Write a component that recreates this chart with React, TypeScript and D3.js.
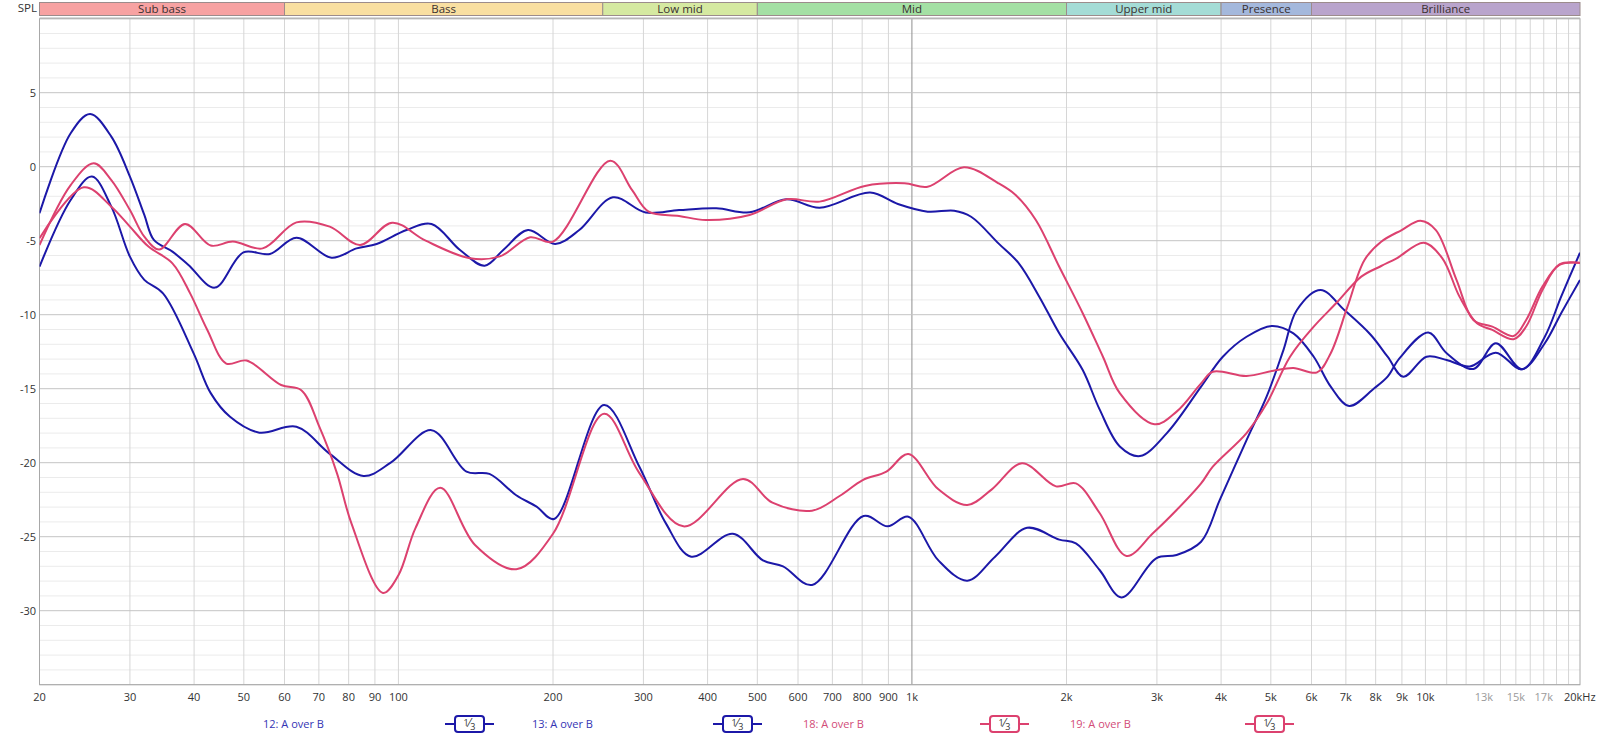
import React from 'react';
import * as d3 from 'd3';

// frequency (Hz) / level (dB) pairs
const freqs12 = [20, 23, 25.1, 27.6, 30, 32, 33.4, 36.3, 39, 43.9, 49.9, 56.2, 63.3, 74.1, 82.9, 90.7, 103.7, 116, 131.8, 147.2, 160, 178.8, 202, 225, 261.6, 303, 352, 416, 483, 570, 661, 829, 939, 1073, 1209, 1304, 1474, 1615, 1770, 1936, 2151, 2320, 2540, 2780, 3137, 3657, 4031, 4484, 5020, 5532, 6060, 6540, 7104, 7950, 8440, 8900, 10130, 11000, 12400, 13710, 15420, 17080, 18380, 20000];
const spl12 = [-3.15, 2.26, 3.56, 2.03, -0.67, -3.26, -4.95, -5.74, -6.64, -8.17, -5.79, -5.9, -4.8, -6.15, -5.52, -5.22, -4.28, -3.87, -5.63, -6.69, -5.63, -4.28, -5.22, -4.28, -2.07, -3.1, -2.93, -2.81, -3.08, -2.2, -2.77, -1.75, -2.52, -3.04, -2.97, -3.38, -5.18, -6.53, -8.78, -11.26, -13.74, -16.4, -18.9, -19.55, -18.0, -14.86, -12.84, -11.49, -10.76, -11.26, -12.84, -14.86, -16.17, -14.97, -14.19, -12.95, -11.2, -12.6, -13.67, -11.93, -13.69, -11.49, -8.78, -5.81];

const freqs13 = [20, 23, 25.3, 27.6, 30, 32, 34.8, 39.9, 43.1, 47, 53.6, 63.3, 73.5, 85.5, 96.6, 116, 135.7, 150.4, 169.6, 185.8, 201, 251.5, 294.6, 331.8, 371.7, 448, 512.7, 561, 639, 805, 897, 984, 1126, 1282, 1452, 1676, 1936, 2086, 2320, 2560, 2990, 3277, 3657, 3979, 4484, 4910, 5290, 5620, 6250, 6950, 7830, 8440, 9060, 10050, 11000, 12200, 13710, 15420, 17080, 18380, 20000];
const spl13 = [-6.76, -2.25, -0.67, -2.7, -6.08, -7.65, -8.56, -12.6, -15.3, -16.9, -17.97, -17.57, -19.4, -20.9, -20.0, -17.8, -20.6, -20.76, -22.2, -22.97, -23.8, -16.1, -20.27, -24.1, -26.35, -24.8, -26.6, -27.0, -28.26, -23.6, -24.3, -23.65, -26.6, -27.97, -26.35, -24.4, -25.2, -25.45, -27.25, -29.1, -26.46, -26.24, -25.34, -22.5, -18.47, -15.5, -12.39, -9.68, -8.33, -9.68, -11.37, -12.84, -14.19, -12.84, -13.06, -13.5, -12.57, -13.69, -11.93, -9.9, -7.65];

const freqs18 = [20, 23, 25.5, 27.6, 30, 32, 34.2, 38.4, 43.1, 47.6, 54.4, 63.3, 73.5, 84.2, 97.3, 113, 137.9, 157.6, 180.5, 200, 258.6, 285, 307, 352, 397, 483, 570, 661, 810, 967, 1073, 1263, 1474, 1592, 1743, 1936, 2151, 2355, 2540, 2968, 3277, 3657, 3854, 4484, 5058, 5532, 6150, 6540, 7050, 7610, 8200, 8990, 9780, 10480, 11500, 12400, 13500, 14850, 15710, 16900, 18240, 20000];
const spl18 = [-5.29, -1.24, 0.23, -0.9, -2.93, -4.73, -5.6, -3.87, -5.33, -5.06, -5.52, -3.76, -4.05, -5.29, -3.78, -5.0, -6.19, -6.06, -4.77, -5.06, 0.41, -1.57, -3.04, -3.33, -3.6, -3.26, -2.2, -2.36, -1.3, -1.12, -1.35, -0.04, -1.12, -1.91, -3.6, -6.76, -9.9, -12.84, -15.3, -17.4, -16.55, -14.64, -13.85, -14.14, -13.78, -13.6, -13.9, -12.6, -9.46, -6.3, -5.07, -4.28, -3.65, -4.28, -7.66, -10.36, -10.81, -11.44, -10.36, -8.1, -6.64, -6.49];

const freqs19 = [20, 24.4, 27.6, 30, 32.6, 36.3, 39.3, 42.4, 46.2, 50.6, 59.1, 64.7, 70.2, 75.9, 81, 93.3, 100, 108, 120.6, 141, 169.6, 200, 251.5, 294.6, 359, 469, 535, 639, 723, 802, 892, 984, 1126, 1282, 1431, 1638, 1908, 2086, 2320, 2617, 2946, 3277, 3657, 3854, 4484, 4910, 5450, 6060, 6700, 7500, 8200, 8790, 9930, 10790, 11650, 12600, 13500, 14850, 15710, 16900, 18240, 20000];
const spl19 = [-4.84, -1.39, -2.7, -4.05, -5.4, -6.53, -8.56, -11.0, -13.3, -13.1, -14.75, -15.1, -17.6, -20.7, -24.1, -28.8, -27.6, -24.4, -21.7, -25.56, -27.2, -24.8, -16.7, -20.7, -24.3, -21.1, -22.7, -23.24, -22.25, -21.17, -20.6, -19.41, -21.8, -22.86, -21.8, -20.04, -21.6, -21.4, -23.4, -26.3, -24.77, -23.2, -21.4, -20.27, -18.0, -15.99, -12.84, -10.81, -9.23, -7.43, -6.71, -6.19, -5.14, -6.19, -8.78, -10.58, -11.03, -11.66, -10.8, -8.33, -6.6, -6.5];

const seriesNames = ['12: A over B', '13: A over B', '18: A over B', '19: A over B'];
const seriesColors = ['#1c18a8', '#1c18a8', '#dc416f', '#dc416f'];
const legendTextColors = ['#3434b4', '#3434b4', '#d24c78', '#d24c78'];

const bandNames = ['Sub bass', 'Bass', 'Low mid', 'Mid', 'Upper mid', 'Presence', 'Brilliance'];
const bandEdges = [20, 60, 250, 500, 2000, 4000, 6000, 20000];
const bandColors = ['#f7a2a2', '#f9dfa1', '#d5e9a1', '#a4e0a4', '#a4dcd6', '#a4b8dc', '#b9a4cc'];

const gridFreqs = [
  30, 40, 50, 60, 70, 80, 90, 100,
  200, 300, 400, 500, 600, 700, 800, 900, 1000,
  2000, 3000, 4000, 5000, 6000, 7000, 8000, 9000, 10000,
  11000, 12000, 13000, 14000, 15000, 16000, 17000, 18000, 19000,
];
const tickFreqs = [20, 30, 40, 50, 60, 70, 80, 90, 100, 200, 300, 400, 500, 600, 700, 800, 900, 1000, 2000, 3000, 4000, 5000, 6000, 7000, 8000, 9000, 10000, 13000, 15000, 17000];
const tickLabels = ['20', '30', '40', '50', '60', '70', '80', '90', '100', '200', '300', '400', '500', '600', '700', '800', '900', '1k', '2k', '3k', '4k', '5k', '6k', '7k', '8k', '9k', '10k', '13k', '15k', '17k'];
const faintTicks = ['13k', '15k', '17k'];
const yTicks = [5, 0, -5, -10, -15, -20, -25, -30];

const W = 1600;
const H = 735;
const left = 39.5;
const right = 1580;
const top = 18.7;
const bottom = 684.7;
const font = '"Open Sans", "Noto Sans", sans-serif';

export default function App() {
  const x = d3.scaleLog().domain([20, 20000]).range([left, right]);
  const y = d3.scaleLinear().domain([-35, 10]).range([bottom, top]);

  const line = d3.line<[number, number]>()
    .x(d => x(d[0]))
    .y(d => y(d[1]))
    .curve(d3.curveCatmullRom.alpha(0.5));

  const all = [
    d3.zip(freqs12, spl12),
    d3.zip(freqs13, spl13),
    d3.zip(freqs18, spl18),
    d3.zip(freqs19, spl19),
  ] as [number, number][][];

  const minorDb = d3.range(-35, 10.01, 1).filter(v => v % 5 !== 0);
  const majorDb = d3.range(-35, 10.01, 5);

  const legendX = [263, 532, 803, 1070];
  const boxX = [445, 713, 980, 1245];

  return (
    <svg width={W} height={H} style={{ position: 'absolute', left: 0, top: 0, background: '#fff' }} fontFamily={font}>
      <rect x={0} y={0} width={W} height={H} fill="#fff" />

      {/* frequency band strip */}
      <text x={37} y={12} textAnchor="end" fontSize={11.5} fill="#333">SPL</text>
      {bandNames.map((name, i) => {
        const x0 = x(bandEdges[i]);
        const x1 = x(bandEdges[i + 1]);
        return (
          <g key={name}>
            <rect x={x0} y={2.5} width={x1 - x0} height={13} fill={bandColors[i]} stroke="#9c8c8c" strokeWidth={1} />
            <text x={(x0 + x1) / 2} y={13} textAnchor="middle" fontSize={11.5} fill="#3a3030">{name}</text>
          </g>
        );
      })}

      {/* grid */}
      {minorDb.map(v => (
        <line key={'h' + v} x1={left} x2={right} y1={y(v)} y2={y(v)} stroke="#ebebeb" strokeWidth={1} />
      ))}
      {gridFreqs.map(f => (
        <line key={'v' + f} x1={x(f)} x2={x(f)} y1={top} y2={bottom} stroke={f === 1000 ? '#8e8e8e' : '#d6d6d6'} strokeWidth={1} />
      ))}
      {majorDb.map(v => (
        <line key={'H' + v} x1={left} x2={right} y1={y(v)} y2={y(v)} stroke="#c4c4c4" strokeWidth={1} />
      ))}
      <rect x={left} y={top} width={right - left} height={bottom - top} fill="none" stroke="#a8a8a8" strokeWidth={1} />
      <line x1={left} x2={right} y1={top - 1} y2={top - 1} stroke="#d0d0d0" strokeWidth={1} />

      {/* y labels */}
      {yTicks.map(v => (
        <text key={'yl' + v} x={36} y={y(v) + 4} textAnchor="end" fontSize={11} fill="#333">{v}</text>
      ))}

      {/* x labels */}
      {tickFreqs.map((f, i) => (
        <text key={'xl' + f} x={x(f)} y={701} textAnchor="middle" fontSize={11} fill={faintTicks.includes(tickLabels[i]) ? '#9a9a9a' : '#333'}>{tickLabels[i]}</text>
      ))}
      <text x={right - 16} y={701} textAnchor="start" fontSize={11} fill="#333">20kHz</text>

      {/* traces */}
      <g clipPath="url(#plotClip)">
        <defs>
          <clipPath id="plotClip">
            <rect x={left} y={top} width={right - left} height={bottom - top} />
          </clipPath>
        </defs>
        {all.map((pts, i) => (
          <path key={seriesNames[i] + i} d={line(pts) || ''} fill="none" stroke={seriesColors[i]} strokeWidth={2} strokeLinejoin="round" />
        ))}
      </g>

      {/* legend */}
      {seriesNames.map((name, i) => (
        <g key={'lg' + i}>
          <text x={legendX[i]} y={728} fontSize={11} fill={legendTextColors[i]}>{name}</text>
          <line x1={boxX[i]} x2={boxX[i] + 49} y1={724} y2={724} stroke={seriesColors[i]} strokeWidth={2} />
          <rect x={boxX[i] + 10} y={716} width={29} height={16} rx={3} fill="#fff" stroke={seriesColors[i]} strokeWidth={2} />
          <text x={boxX[i] + 24.5} y={728} textAnchor="middle" fontSize={11} fill="#333">
            <tspan fontSize={9} dy={-2}>1</tspan>
            <tspan fontSize={12} dy={1}>⁄</tspan>
            <tspan fontSize={9} dy={3}>3</tspan>
          </text>
        </g>
      ))}
    </svg>
  );
}
